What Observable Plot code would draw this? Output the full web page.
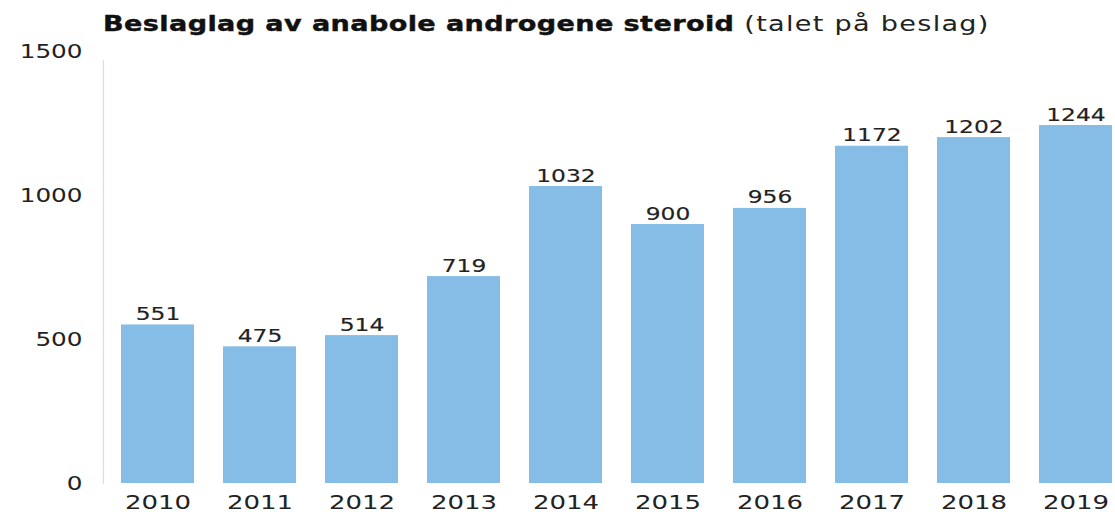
<!DOCTYPE html>
<html>
<head>
<meta charset="utf-8">
<script src="https://cdn.jsdelivr.net/npm/d3@7"></script>
<script src="https://cdn.jsdelivr.net/npm/@observablehq/plot@0.6"></script>
<style>
  html, body { margin: 0; padding: 0; background: #fff; overflow: hidden; }
  #titlewrap { height: 40px; position: relative; }
  #title { position: absolute; left: 103px; top: 12px;
           transform: scaleX(1.29); transform-origin: 0 0;
           font-family: "DejaVu Sans", sans-serif; font-size: 21px; color: #111; white-space: nowrap; line-height: 24px; }
  #title b { font-weight: 900; letter-spacing: 0.3px; -webkit-text-stroke: 0.4px #111; }
  #title span { letter-spacing: 1px; color: #222; }
  svg { display: block; }
</style>
</head>
<body>
<div id="titlewrap"><div id="title"><b>Beslaglag av anabole androgene steroid</b><span> (talet på beslag)</span></div></div>
<div id="chart"></div>
<script>
const years = ["2010","2011","2012","2013","2014","2015","2016","2017","2018","2019"];
const seizures = [551, 475, 514, 719, 1032, 900, 956, 1172, 1202, 1244];
const yTicks = [0, 500, 1000, 1500];

const data = years.map((year, i) => ({year, value: seizures[i]}));

const chart = Plot.plot({
  width: 1115,
  height: 472,
  marginLeft: 103,
  marginRight: 3,
  marginTop: 20,
  marginBottom: 29,
  style: {fontFamily: "DejaVu Sans, sans-serif", color: "#222", background: "#fff"},
  x: {domain: years, paddingInner: 0.28, paddingOuter: 0.075, align: 1},
  y: {domain: [0, 1470]},
  marks: [
    Plot.frame({anchor: "left", stroke: "#ddd", strokeWidth: 1.2}),
    Plot.barY(data, {x: "year", y: "value", fill: "#85bde6"}),
    Plot.text(data, {x: "year", y: "value", text: d => String(d.value), dy: -5, lineAnchor: "bottom",
      fontSize: 18, fill: "#222", stroke: "#222", strokeWidth: 0.15, style: "letter-spacing: 0.8px"}),
    Plot.axisY({ticks: yTicks, tickSize: 0, tickPadding: 21, fontSize: 19, label: null,
      tickFormat: d => String(d), fill: "#222", stroke: "#222", strokeWidth: 0.15, style: "letter-spacing: 2px"}),
    Plot.axisX({tickSize: 0, tickPadding: 11, fontSize: 20, label: null, fill: "#222", stroke: "#222", strokeWidth: 0.15,
      style: "letter-spacing: 1.3px"})
  ]
});
document.getElementById("chart").append(chart);

// widen glyphs horizontally (the reference uses a wide typeface)
const stretch = 1.3;
chart.querySelectorAll("text").forEach(t => {
  const bb = t.getBBox();
  let anchor = null, el = t;
  while (el && el !== chart.parentNode && !anchor) { anchor = el.getAttribute && el.getAttribute("text-anchor"); el = el.parentNode; }
  const px = anchor === "end" ? bb.x + bb.width : anchor === "start" ? bb.x : bb.x + bb.width / 2;
  const tr = t.getAttribute("transform") || "";
  t.setAttribute("transform", `${tr} translate(${px},0) scale(${stretch},1) translate(${-px},0)`);
});
</script>
</body>
</html>
